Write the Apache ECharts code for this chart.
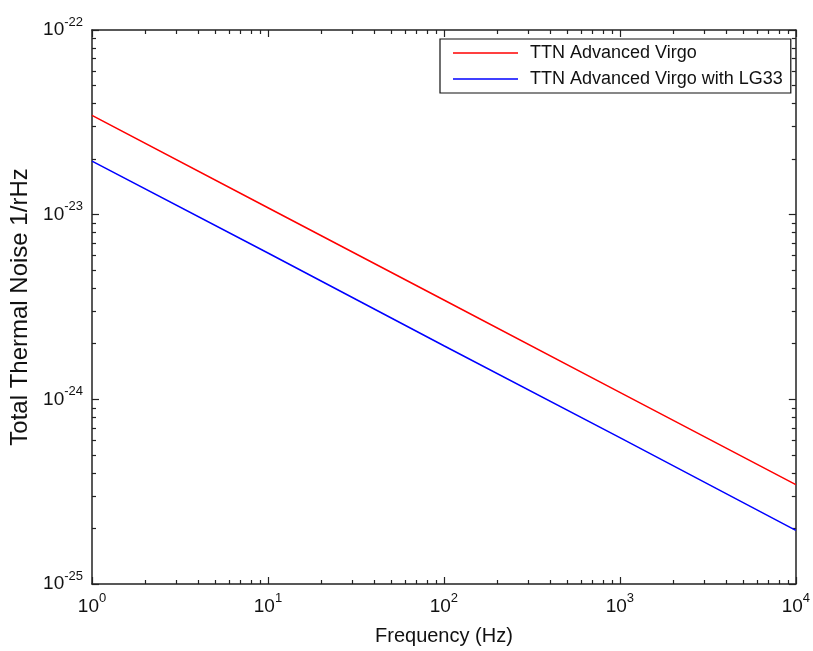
<!DOCTYPE html>
<html>
<head>
<meta charset="utf-8">
<script src="https://cdn.jsdelivr.net/npm/echarts@6/dist/echarts.min.js"></script>
<style>html,body{margin:0;padding:0;background:#fff}#c{width:813px;height:651px}</style>
</head>
<body>
<div id="c"></div>
<script>
// Data
var frequency = [1, 10, 100, 1000, 10000];
var ttnAdvancedVirgo = [3.45e-23, 1.09e-23, 3.45e-24, 1.09e-24, 3.45e-25];
var ttnAdvancedVirgoLG33 = [1.95e-23, 6.2e-24, 1.95e-24, 6.2e-25, 1.95e-25];
var seriesNames = ['TTN Advanced Virgo', 'TTN Advanced Virgo with LG33'];
var xMajorTicks = [1, 10, 100, 1000, 10000];
var yMajorTicks = [1e-25, 1e-24, 1e-23, 1e-22];

// The y values are plotted in units of 1e-25 (ECharts log ticks lose precision below 1e-20)
var Y_EXP = -25;
var Y_UNIT = Math.pow(10, Y_EXP);
function ys(v) { return v / Y_UNIT; }
var yMajorScaled = yMajorTicks.map(function (v) { return Math.round(ys(v)); });

function minorTicks(majors) {
  var out = [];
  for (var i = 0; i < majors.length - 1; i++) {
    for (var k = 2; k <= 9; k++) out.push(majors[i] * k);
  }
  return out;
}
var xMinorTicks = minorTicks(xMajorTicks);
var yMinorScaled = minorTicks(yMajorScaled);

function pairs(xs, yv) { return xs.map(function (x, i) { return [x, ys(yv[i])]; }); }

var FONT = 'Liberation Sans';
var axisColor = '#222';
function xLabel(v) {
  return '{b|10}{s|' + Math.round(Math.log10(v)) + '}';
}
function yLabel(v) {
  return '{b|10}{s|' + (Math.round(Math.log10(v)) + Y_EXP) + '}';
}
var rich = {
  b: { fontFamily: FONT, fontSize: 19, color: '#111' },
  s: { fontFamily: FONT, fontSize: 13, color: '#111', padding: [0, 0, 16, 0] }
};

function xAx(pos, ticks, len, main) {
  return {
    type: 'log', logBase: 10, min: xMajorTicks[0], max: xMajorTicks[xMajorTicks.length - 1], position: pos, gridIndex: 0,
    axisLine: { show: main, onZero: false, lineStyle: { color: axisColor, width: 1.5 } },
    axisTick: { show: true, inside: true, length: len, customValues: ticks, lineStyle: { color: axisColor, width: 1.2 } },
    axisLabel: (main && pos === 'bottom') ? { show: true, customValues: xMajorTicks, formatter: xLabel, rich: rich, margin: 8 } : { show: false },
    splitLine: { show: false }, minorTick: { show: false }, minorSplitLine: { show: false },
    name: (main && pos === 'bottom') ? 'Frequency (Hz)' : '',
    nameLocation: 'middle', nameGap: 42,
    nameTextStyle: { fontFamily: FONT, fontSize: 20, color: '#111' }
  };
}
function yAx(pos, ticks, len, main) {
  return {
    type: 'log', logBase: 10, min: yMajorScaled[0], max: yMajorScaled[yMajorScaled.length - 1], position: pos, gridIndex: 0,
    axisLine: { show: main, onZero: false, lineStyle: { color: axisColor, width: 1.5 } },
    axisTick: { show: true, inside: true, length: len, customValues: ticks, lineStyle: { color: axisColor, width: 1.2 } },
    axisLabel: (main && pos === 'left') ? { show: true, customValues: yMajorScaled, formatter: yLabel, rich: rich, margin: 9 } : { show: false },
    splitLine: { show: false }, minorTick: { show: false }, minorSplitLine: { show: false },
    name: (main && pos === 'left') ? 'Total Thermal Noise 1/rHz' : '',
    nameLocation: 'middle', nameGap: 60, nameRotate: 90,
    nameTextStyle: { fontFamily: FONT, fontSize: 24, color: '#111' }
  };
}

var chart = echarts.init(document.getElementById('c'), null, { renderer: 'canvas' });
chart.setOption({
  backgroundColor: '#fff',
  animation: false,
  grid: { left: 92, right: 14, top: 30, bottom: 63, containLabel: false },
  xAxis: [
    xAx('bottom', xMajorTicks, 7, true),
    xAx('bottom', xMinorTicks, 4, false),
    xAx('top', xMajorTicks, 7, true),
    xAx('top', xMinorTicks, 4, false)
  ],
  yAxis: [
    yAx('left', yMajorScaled, 7, true),
    yAx('left', yMinorScaled, 4, false),
    yAx('right', yMajorScaled, 7, true),
    yAx('right', yMinorScaled, 4, false)
  ],
  legend: {
    orient: 'vertical', left: 440, top: 39,
    padding: [5, 8, 5, 13],
    borderColor: '#111', borderWidth: 1.2, borderRadius: 0,
    backgroundColor: '#fff',
    icon: 'rect',
    itemWidth: 65, itemHeight: 1.5, itemGap: 8,
    textStyle: { fontFamily: FONT, fontSize: 18, lineHeight: 18, color: '#111', padding: [0, 0, 0, 7] },
    data: seriesNames
  },
  series: [
    {
      name: seriesNames[0], type: 'line', xAxisIndex: 0, yAxisIndex: 0,
      data: pairs(frequency, ttnAdvancedVirgo), symbol: 'none',
      lineStyle: { color: '#ff0000', width: 1.5 }, itemStyle: { color: '#ff0000' }
    },
    {
      name: seriesNames[1], type: 'line', xAxisIndex: 0, yAxisIndex: 0,
      data: pairs(frequency, ttnAdvancedVirgoLG33), symbol: 'none',
      lineStyle: { color: '#0000ff', width: 1.5 }, itemStyle: { color: '#0000ff' }
    }
  ]
});
</script>
</body>
</html>
